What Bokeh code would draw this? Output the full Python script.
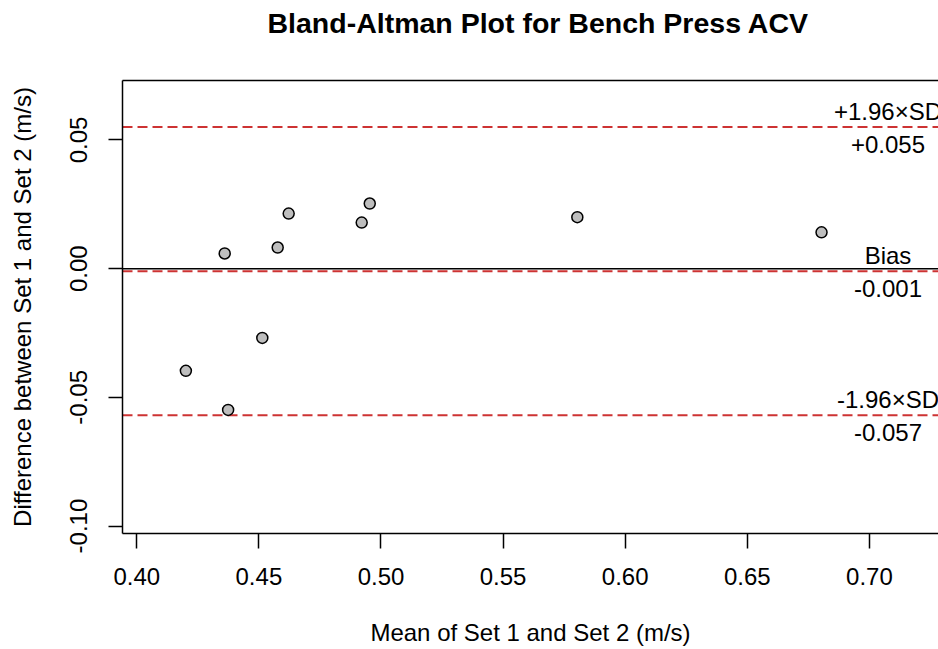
from bokeh.plotting import figure
from bokeh.models import (Range1d, FixedTicker, NumeralTickFormatter, LinearAxis,
                          Span, ColumnDataSource)
from bokeh.core.properties import value
from bokeh.embed import file_html
from bokeh.resources import INLINE

# ---- data ----
mean_vals = [0.4201, 0.4360, 0.4374, 0.4514, 0.4577, 0.4622, 0.4921, 0.4954, 0.5804, 0.6804]
diff_vals = [-0.0397, 0.0059, -0.0549, -0.0269, 0.0082, 0.0214, 0.0179, 0.0253, 0.0200, 0.0141]
bias = -0.001
upper_loa = 0.055
lower_loa = -0.057
above_labels = ["+1.96×SD", "Bias", "-1.96×SD"]
below_labels = ["+0.055", "-0.001", "-0.057"]
x_ticks = [0.40, 0.45, 0.50, 0.55, 0.60, 0.65, 0.70]
y_ticks = [-0.10, -0.05, 0.00, 0.05]
title_text = "Bland-Altman Plot for Bench Press ACV"

FONT = "Liberation Sans"
RED = "#CD3333"
FS = "24px"

X0, X1 = 0.39415, 0.7283
Y0, Y1 = -0.1029, 0.0731

p = figure(width=938, height=649,
           x_range=Range1d(X0, X1), y_range=Range1d(Y0, Y1),
           output_backend="svg", toolbar_location=None,
           min_border_left=122, min_border_right=0, min_border_top=80, min_border_bottom=116,
           x_axis_label="Mean of Set 1 and Set 2 (m/s)",
           y_axis_label="Difference between Set 1 and Set 2 (m/s)")
p.grid.visible = False
p.outline_line_color = None
p.background_fill_color = "white"
p.border_fill_color = "white"

xa = p.below[0]
ya = p.left[0]

# title
p.title.text = title_text
p.title.align = "left"
p.title.offset = 145
p.title.text_font = FONT
p.title.text_font_size = "28.5px"
p.title.text_font_style = "bold"
p.title.text_color = "black"
p.title.standoff = 8

# top border (box); a blank axis label reserves the space below the title
top_axis = LinearAxis(ticker=FixedTicker(ticks=[]), major_label_text_font_size="0px",
                      major_tick_out=0, major_tick_in=0, minor_tick_out=0, minor_tick_in=0,
                      major_tick_line_color=None, minor_tick_line_color=None,
                      major_label_standoff=0, axis_line_color="black", axis_line_width=1.5,
                      axis_label=" ", axis_label_text_font=FONT, axis_label_text_font_size="24px",
                      axis_label_standoff=8)
p.add_layout(top_axis, "above")

for ax in (xa, ya):
    ax.axis_line_color = "black"
    ax.axis_line_width = 1.5
    ax.major_tick_line_color = "black"
    ax.major_tick_line_width = 1.5
    ax.major_tick_in = 0
    ax.minor_tick_line_color = None
    ax.major_label_text_font = FONT
    ax.major_label_text_font_size = FS
    ax.major_label_text_color = "black"
    ax.axis_label_text_font = FONT
    ax.axis_label_text_font_size = FS
    ax.axis_label_text_font_style = "normal"
    ax.axis_label_text_color = "black"
    ax.formatter = NumeralTickFormatter(format="0.00")

xa.ticker = FixedTicker(ticks=x_ticks)
xa.major_tick_out = 15
xa.major_label_standoff = 19
xa.axis_label_standoff = 31

ya.ticker = FixedTicker(ticks=y_ticks)
ya.major_tick_out = 14
ya.major_label_orientation = "vertical"
ya.major_label_standoff = 21
ya.axis_label_standoff = 32

# reference lines
p.add_layout(Span(location=0, dimension="width", line_color="black", line_width=1.5, level="underlay"))
for loc in (upper_loa, bias, lower_loa):
    p.add_layout(Span(location=loc, dimension="width", line_color=RED,
                      line_dash="10 5", line_width=2, level="underlay"))

# points
src = ColumnDataSource(dict(x=mean_vals, y=diff_vals))
p.scatter("x", "y", source=src, size=11, fill_color="#BEBEBE", line_color="black", line_width=1.5)

# annotations
label_x = max(mean_vals) * 1.04
lines_y = [upper_loa, bias, lower_loa]
src_above = ColumnDataSource(dict(x=[label_x] * 3, y=lines_y, t=above_labels))
src_below = ColumnDataSource(dict(x=[label_x] * 3, y=lines_y, t=below_labels))
p.text("x", "y", text="t", source=src_above, text_font=value(FONT), text_font_size=FS,
       text_align="center", text_baseline="alphabetic", y_offset=-16, text_color="black")
p.text("x", "y", text="t", source=src_below, text_font=value(FONT), text_font_size=FS,
       text_align="center", text_baseline="alphabetic", y_offset=17, text_color="black")

open("out.html", "w").write(file_html(p, INLINE))
